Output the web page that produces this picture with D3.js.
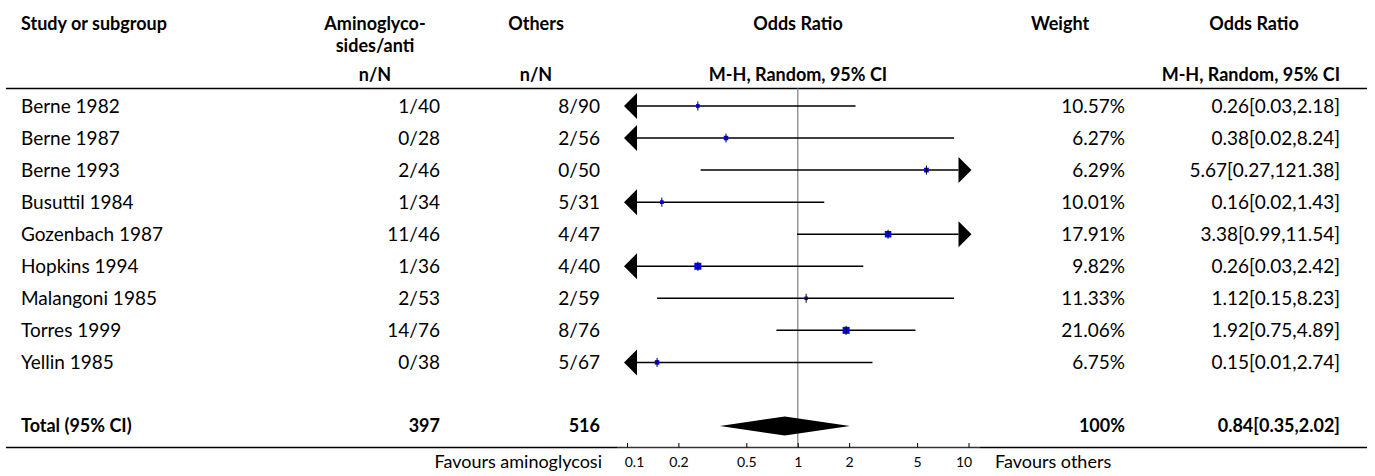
<!DOCTYPE html>
<html>
<head>
<meta charset="utf-8">
<script src="https://cdn.jsdelivr.net/npm/d3@7"></script>
<style>
  body { margin:0; background:#fff; }
  svg { display:block; font-family: Lato, "Noto Sans", sans-serif; }
</style>
</head>
<body>
<script>
// studies and their counts
var studies = ["Berne 1982","Berne 1987","Berne 1993","Busuttil 1984","Gozenbach 1987",
               "Hopkins 1994","Malangoni 1985","Torres 1999","Yellin 1985"];
var treatEvents = [1,0,2,1,11,1,2,14,0];
var treatTotal  = [40,28,46,34,46,36,53,76,38];
var ctrlEvents  = [8,2,0,5,4,4,2,8,5];
var ctrlTotal   = [90,56,50,31,47,40,59,76,67];
var weights     = [10.57,6.27,6.29,10.01,17.91,9.82,11.33,21.06,6.75];
var oddsRatio   = [0.26,0.38,5.67,0.16,3.38,0.26,1.12,1.92,0.15];
var ciLow       = [0.03,0.02,0.27,0.02,0.99,0.03,0.15,0.75,0.01];
var ciHigh      = [2.18,8.24,121.38,1.43,11.54,2.42,8.23,4.89,2.74];
// relative box weight as drawn in the plot
var boxWeight   = [3.7,4.5,4.7,3.7,6.5,7,3.5,7,4.5];

var totalTreat = 397, totalCtrl = 516;
var totalOR = 0.84, totalLow = 0.35, totalHigh = 2.02;
var tickValues = [0.1,0.2,0.5,1,2,5,10];

var width = 1375, height = 476;
var svg = d3.select("body").append("svg")
    .attr("width", width)
    .attr("height", height);

var x = d3.scaleLog().domain([0.1, 10]).range([627, 968.5]);
var rowY = d3.scaleLinear().domain([0, 1]).range([106, 138.05]);
var boxSize = d3.scaleLinear().domain([0, 7]).range([0, 7]);

var fs = 19, fsBold = 18;
var colTreat = 440, colCtrl = 600, colWeight = 1125, colOR = 1340;
var topRule = 88.5, bottomRule = 447.5;

function txt(xp, yp, s, anchor, bold, size) {
  return svg.append("text")
    .attr("x", xp).attr("y", yp)
    .attr("dy", "0.35em")
    .attr("text-anchor", anchor || "start")
    .attr("font-size", size || (bold ? fsBold : fs))
    .attr("font-weight", bold ? "bold" : "normal")
    .attr("fill", "#000")
    .text(s);
}

// headers
txt(21, 24, "Study or subgroup", "start", true);
txt(375, 24, "Aminoglyco-", "middle", true);
txt(375, 46, "sides/anti", "middle", true);
txt(536, 24, "Others", "middle", true);
txt(798, 24, "Odds Ratio", "middle", true);
txt(1060, 24, "Weight", "middle", true);
txt(1254, 24, "Odds Ratio", "middle", true);
txt(375, 75, "n/N", "middle", true);
txt(536, 75, "n/N", "middle", true);
txt(798, 75, "M-H, Random, 95% CI", "middle", true);
txt(colOR, 75, "M-H, Random, 95% CI", "end", true);

// rules
svg.append("line").attr("x1", 6).attr("x2", 1367).attr("y1", topRule).attr("y2", topRule)
  .attr("stroke", "#000").attr("stroke-width", 1.5);
svg.append("line").attr("x1", 6).attr("x2", 617).attr("y1", bottomRule).attr("y2", bottomRule)
  .attr("stroke", "#000").attr("stroke-width", 1.5);
svg.append("line").attr("x1", 980).attr("x2", 1367).attr("y1", bottomRule).attr("y2", bottomRule)
  .attr("stroke", "#000").attr("stroke-width", 1.5);

// null line
svg.append("line").attr("x1", x(1)).attr("x2", x(1)).attr("y1", topRule).attr("y2", bottomRule)
  .attr("stroke", "#999").attr("stroke-width", 1.5);

var fmt2 = d3.format(".2f");

// study rows
studies.forEach(function(name, i) {
  var y = rowY(i);
  txt(21, y, name);
  txt(colTreat, y, treatEvents[i] + "/" + treatTotal[i], "end");
  txt(colCtrl, y, ctrlEvents[i] + "/" + ctrlTotal[i], "end");
  txt(colWeight, y, fmt2(weights[i]) + "%", "end");
  txt(colOR, y, fmt2(oddsRatio[i]) + "[" + fmt2(ciLow[i]) + "," + fmt2(ciHigh[i]) + "]", "end");

  var lowClip = ciLow[i] < 0.1, highClip = ciHigh[i] > 10;
  var x0 = lowClip ? x(0.1) - 3 + 13 : x(ciLow[i]);
  var x1 = highClip ? x(10) + 3 - 13 : x(ciHigh[i]);
  svg.append("line").attr("x1", x0).attr("x2", x1).attr("y1", y).attr("y2", y)
    .attr("stroke", "#000").attr("stroke-width", 1.5);
  if (lowClip) {
    var t = x(0.1) - 3;
    svg.append("path").attr("d", "M" + t + "," + y + "L" + (t + 13) + "," + (y - 13) + "L" + (t + 13) + "," + (y + 13) + "Z")
      .attr("fill", "#000");
  }
  if (highClip) {
    var t2 = x(10) + 3;
    svg.append("path").attr("d", "M" + t2 + "," + y + "L" + (t2 - 13) + "," + (y - 13) + "L" + (t2 - 13) + "," + (y + 13) + "Z")
      .attr("fill", "#000");
  }
  var s = boxSize(boxWeight[i]);
  svg.append("rect")
    .attr("x", x(oddsRatio[i]) - s / 2).attr("y", y - s / 2)
    .attr("width", s).attr("height", s)
    .attr("fill", "#0000ff");
  svg.append("line").attr("x1", x(oddsRatio[i])).attr("x2", x(oddsRatio[i]))
    .attr("y1", y - 4.5).attr("y2", y + 4.5)
    .attr("stroke", "#000").attr("stroke-width", 1);
});

// total row
var ty = 426;
txt(21, ty, "Total (95% CI)", "start", true);
txt(colTreat, ty, totalTreat, "end", true);
txt(colCtrl, ty, totalCtrl, "end", true);
txt(colWeight, ty, "100%", "end", true);
txt(colOR, ty, fmt2(totalOR) + "[" + fmt2(totalLow) + "," + fmt2(totalHigh) + "]", "end", true);
svg.append("path")
  .attr("d", "M" + x(totalLow) + "," + ty + "L" + x(totalOR) + "," + (ty - 9.5) +
        "L" + x(totalHigh) + "," + ty + "L" + x(totalOR) + "," + (ty + 9.5) + "Z")
  .attr("fill", "#000");

// axis
var axis = d3.axisBottom(x)
  .tickValues(tickValues)
  .tickFormat(d3.format("~g"))
  .tickSizeInner(-4.5)
  .tickSizeOuter(0)
  .tickPadding(10);
var ag = svg.append("g").attr("transform", "translate(0," + bottomRule + ")").call(axis);
ag.select(".domain").attr("stroke", "#333").attr("stroke-width", 1.5)
  .attr("d", "M617,0H980");
ag.selectAll(".tick line").attr("stroke", "#000");
ag.selectAll(".tick text")
  .attr("font-size", 14).attr("font-family", "Lato, sans-serif").attr("fill", "#000")
  .attr("dx", function(d) { return d === 0.1 ? 7 : d === 10 ? -5 : 0; });

txt(602, 462, "Favours aminoglycosi", "end", false, 18);
txt(995, 462, "Favours others", "start", false, 18);
</script>
</body>
</html>
